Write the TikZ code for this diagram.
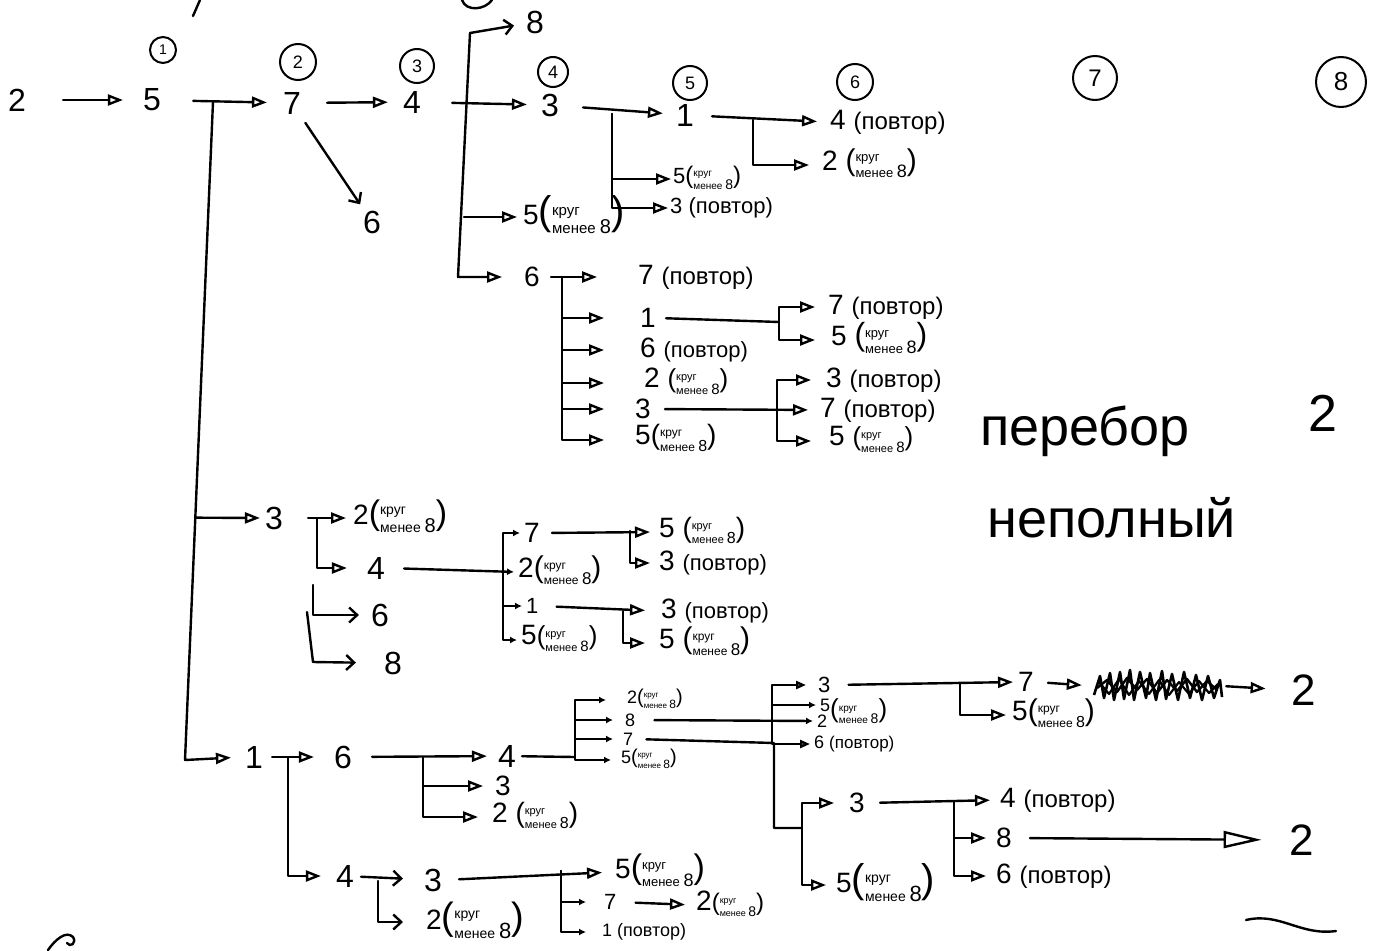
\documentclass[tikz,border=0pt]{standalone}
\usepackage{fontspec}
\setmainfont{Liberation Sans}
\usetikzlibrary{arrows.meta,calc}
\newcommand{\krg}[3]{{\fontsize{#1}{#1}\selectfont(}{\fontsize{#2}{#2}\selectfont\begin{tabular}[c]{@{}l@{}}круг\\менее {\fontsize{#3}{#3}\selectfont 8}\end{tabular}}{\fontsize{#1}{#1}\selectfont)}}
\newcommand{\povt}[1]{{\fontsize{#1}{#1}\selectfont(повтор)}}
\begin{document}
\begin{tikzpicture}[x=1pt,y=-1pt,
  every node/.style={inner sep=2pt},
  dX/.style={font=\fontsize{44}{46}\selectfont},
  dB/.style={font=\fontsize{32}{34}\selectfont},
  dM/.style={font=\fontsize{28}{30}\selectfont},
  dT/.style={font=\fontsize{22}{24}\selectfont},
  dS/.style={font=\fontsize{18}{20}\selectfont},
  hw/.style={font=\fontsize{54}{56}\selectfont},
  lf/.style={anchor=west},
  ln/.style={line width=2.4pt, line cap=round, line join=round},
  tri/.style={ln, -{Triangle[open,length=15pt,width=11pt]}},
  trim/.style={ln, -{Triangle[open,length=10pt,width=8pt]}},
  bigtri/.style={ln, -{Triangle[open,length=38pt,width=17pt]}},
  tris/.style={ln, -{Latex[length=7pt,width=7pt]}},
  barb/.style={ln, -{Straight Barb[length=8pt,width=15pt]}},
  ord/.style={circle, draw, line width=2pt, inner sep=0pt, font=\fontsize{18}{20}\selectfont}
]
\fill[white] (0,0) rectangle (1378,950);
\useasboundingbox (0,0) rectangle (1378,950);

% ---------- level markers ----------
\node[ord, minimum size=26pt, font=\fontsize{14}{16}\selectfont] (c1) at (163,50) {1};
\node[ord, minimum size=36pt] (c2) at (298,62) {2};
\node[ord, minimum size=34pt] (c3) at (417,66) {3};
\node[ord, minimum size=30pt] (c4) at (553,72) {4};
\node[ord, minimum size=34pt] (c5) at (690,83) {5};
\node[ord, minimum size=36pt] (c6) at (855,82) {6};
\node[ord, minimum size=44pt, font=\fontsize{24}{26}\selectfont] (c7) at (1095,78) {7};
\node[ord, minimum size=50pt, font=\fontsize{26}{28}\selectfont] (c8) at (1341,82) {8};

% ---------- main row ----------
\node[dB] (r2) at (17,100) {2};
\node[dB] (r5) at (152,100) {5};
\node[dB] (r7) at (292,103) {7};
\node[dB] (r4) at (412,102) {4};
\node[dB] (r3) at (550,105) {3};
\node[dB] (r1) at (685,115) {1};
\node[dM,lf] (r4p) at (828,122) {4 \povt{24}};

\draw[tri, shorten <=35pt, shorten >=18pt] (r2) -- (r5);
\draw[tri, shorten <=30pt, shorten >=14pt] (r5) -- (r7);
\draw[tri, shorten <=24pt, shorten >=13pt] (r7) -- (r4);
\draw[tri, shorten <=29pt, shorten >=12pt] (r4) -- (r3);
\draw[tri, shorten <=22pt, shorten >=11pt] (r3) -- (r1);
\draw[tri, shorten <=16pt, shorten >=11pt] (r1) -- (r4p.west);

\node[dB] (n6a) at (372,222) {6};
\draw[barb, shorten <=8pt, shorten >=5pt] (r7) -- (n6a);

\coordinate (j57) at (213,102);
\coordinate (j14) at (753,120);
\coordinate (j31) at (612,114);

\node[dM,lf] (n2c) at (820,165) {2 \krg{30}{13}{18}};
\draw[tri, shorten >=11pt] (j14) |- (n2c.west);

\node[dT,lf] (n5b) at (671,179) {5\krg{24}{10}{14}};
\node[dT,lf] (n3p1) at (668,208) {3 \povt{22}};
\draw[tri] (j31) |- (n5b.west);
\draw[tri] (j31) |- (n3p1.west);

% ---------- trunk of 4 ----------
\coordinate (t4top) at (470,33);
\coordinate (t4c) at (458,277);
\coordinate (t5a) at (464,217);
\node[dB] (e8) at (535,22) {8};
\draw[barb, shorten >=10pt] (t4top) -- (e8);
\node[dM] (n6b) at (532,277) {6};
\draw[tri, shorten >=20pt] (t4top) -- (t4c) -- (n6b.west);
\node[dM,lf] (n5a) at (521,217) {5\krg{40}{15}{20}};
\draw[tri, shorten >=4pt] (t5a) -- (n5a.west);

% ---------- group of 6 ----------
\coordinate (j6) at (562,277);
\node[dM,lf] (n7p1) at (636,277) {7 \povt{24}};
\draw[tri, shorten <=9pt, shorten >=39pt] (n6b) -- (n7p1.west);
\node[dM,lf] (n1b) at (638,318) {1};
\node[dM,lf] (n6p) at (638,350) {6 \povt{22}};
\node[dM,lf] (n2d) at (642,383) {2 \krg{26}{11}{15}};
\node[dM,lf] (n3c) at (633,409) {3};
\node[dM,lf] (n5c) at (633,440) {5\krg{28}{12}{16}};
\draw[tri, shorten >=34pt] (j6) |- (n1b.west);
\draw[tri, shorten >=34pt] (j6) |- (n6p.west);
\draw[tri, shorten >=38pt] (j6) |- (n2d.west);
\draw[tri, shorten >=29pt] (j6) |- (n3c.west);
\draw[tri, shorten >=29pt] (j6) |- (n5c.west);

\coordinate (j1b) at (779,322);
\draw[ln, shorten <=8pt] (n1b.east) -- (j1b);
\node[dM,lf] (n7p2) at (826,307) {7 \povt{24}};
\node[dM,lf] (n5d) at (829,340) {5 \krg{32}{13}{18}};
\draw[tri, shorten >=11pt] (j1b) |- (n7p2.west);
\draw[tri, shorten >=14pt] (j1b) |- (n5d.west);

\coordinate (j3c) at (777,410);
\node[dM,lf] (n7p3) at (818,410) {7 \povt{24}};
\node[dM,lf] (n3p2) at (824,380) {3 \povt{24}};
\node[dM,lf] (n5e) at (827,441) {5 \krg{26}{11}{15}};
\draw[tri, shorten <=12pt, shorten >=10pt] (n3c.east) -- (n7p3.west);
\draw[tri, shorten >=13pt] (j3c) |- (n3p2.west);
\draw[tri, shorten >=16pt] (j3c) |- (n5e.west);

% ---------- notes ----------
\node[hw] (pb) at (1085,431) {перебор};
\node[hw] (np) at (1112,518) {неполный};
\node[font=\fontsize{52}{54}\selectfont] (rr2) at (1323,413) {2};

% ---------- trunk of 5 ----------
\coordinate (tb) at (185,760);
\coordinate (jt3) at ($(j57)!0.6317!(tb)$);
\node[dB] (b1) at (254,757) {1};
\draw[tri, shorten >=12pt] (j57) -- (tb) -- (b1.west);

\node[dB] (m3) at (274,518) {3};
\draw[tri, shorten >=3pt] (jt3) -- (m3.west);
\coordinate (jm3) at (317,518);
\node[dM,lf] (n2e) at (351,518) {2\krg{34}{14}{20}};
\draw[tri, shorten <=23pt, shorten >=5pt] (m3.east) -- (n2e.west);
\node[dB] (m4) at (376,568) {4};
\draw[tri, shorten >=18pt] (jm3) |- (m4.west);
\coordinate (jm6) at (313,585);
\node[dB] (m6) at (380,615) {6};
\draw[barb, shorten >=10pt] (jm6) |- (m6.west);
\coordinate (jm8) at (307,612);
\coordinate (jm8b) at (313,662);
\node[dB] (m8) at (393,663) {8};
\draw[barb, shorten >=26pt] (jm8) -- (jm8b) -- (m8.west);

\coordinate (jm4) at (503,570);
\node[dM,lf] (q2) at (516,572) {2\krg{30}{12}{17}};
\draw[tris, shorten <=17pt, shorten >=2pt] (m4.east) -- (q2.west);
\node[dM,lf] (q7) at (522,533) {7};
\node[dT,lf] (q1) at (524,606) {1};
\node[dM,lf] (q5) at (519,640) {5\krg{26}{11}{15}};
\draw[tris, shorten >=2pt] (jm4) |- (q7.west);
\draw[tris, shorten >=2pt] (jm4) |- (q1.west);
\draw[tris, shorten >=2pt] (jm4) |- (q5.west);

\coordinate (jq7) at (630,531);
\node[dM,lf] (q5b) at (657,532) {5 \krg{28}{11}{16}};
\node[dM,lf] (q3p) at (657,563) {3 \povt{22}};
\draw[tri, shorten <=10pt, shorten >=7pt] (q7.east) -- (q5b.west);
\draw[tri, shorten >=7pt] (jq7) |- (q3p.west);

\coordinate (jq1) at (623,611);
\node[dM,lf] (q3p2) at (659,611) {3 \povt{22}};
\node[dM,lf] (q5c) at (657,643) {5 \krg{30}{12}{17}};
\draw[tri, shorten <=16pt, shorten >=14pt] (q1.east) -- (q3p2.west);
\draw[tri, shorten >=12pt] (jq1) |- (q5c.west);

% ---------- bottom branch ----------
\node[dB] (b6) at (343,757) {6};
\coordinate (jb1) at (288,757);
\draw[tri, shorten <=7pt, shorten >=18pt] (b1) -- (b6);
\node[dB] (b4) at (345,876) {4};
\draw[tri, shorten >=13pt] (jb1) |- (b4.west);

\node[dB] (b4b) at (507,756) {4};
\draw[tri, shorten <=18pt, shorten >=9pt] (b6) -- (b4b);
\coordinate (jb6) at (423,757);
\node[dM] (b3) at (503,786) {3};
\node[dM,lf] (b2) at (490,817) {2 \krg{28}{11}{16}};
\draw[tri, shorten >=10pt] (jb6) |- (b3.west);
\draw[tri, shorten >=12pt] (jb6) |- (b2.west);

\coordinate (jb4) at (575,757);
\draw[ln, shorten <=4pt] (b4b) -- (jb4);
\node[dS,lf] (s2) at (625,700) {2\krg{20}{8}{12}};
\node[dS,lf] (s8) at (623,720) {8};
\node[dS,lf] (s7) at (621,739) {7};
\node[dS,lf] (s5) at (619,760) {5\krg{20}{8}{12}};
\draw[tris, shorten >=19pt] (jb4) |- (s2.west);
\draw[tris, shorten >=10pt] (jb4) |- (s8.west);
\draw[tris, shorten >=8pt] (jb4) |- (s7.west);
\draw[tris, shorten >=8pt] (jb4) |- (s5.west);

\coordinate (k8) at (772,720);
\node[dS,lf] (u2) at (815,721) {2};
\draw[tris, shorten <=17pt, shorten >=2pt] (s8.east) -- (u2.west);
\node[dT,lf] (u3) at (816,685) {3};
\node[dS,lf] (u5) at (818,705) {5};
\node[dS,lf] (u6) at (812,744) {6 \povt{17}};
\node[lf] (lab52) at (828,713) {\krg{26}{10}{14}};
\draw[trim, shorten >=10pt] (k8) |- (u3.west);
\draw[tris, shorten >=2pt] (k8) |- (u5.west);
\draw[trim, shorten >=2pt] (k8) |- (u6.west);

\coordinate (k7) at (774,743);
\coordinate (k7b) at (774,828);
\coordinate (k7c) at (802,828);
\draw[ln, shorten <=11pt] (s7.east) -- (k7) -- (k7b) -- (k7c);
\node[dM] (v3) at (857,803) {3};
\node[dM,lf] (v5) at (834,885) {5\krg{40}{14}{22}};
\draw[tri, shorten >=13pt] (k7c) |- (v3.west);
\draw[tri, shorten >=8pt] (k7c) |- (v5.west);

\node[dM] (w7) at (1026,682) {7};
\coordinate (ju3) at (960,684);
\node[dM,lf] (w5) at (1010,715) {5\krg{30}{12}{16}};
\draw[tri, shorten <=16pt, shorten >=3pt] (u3.east) -- (w7.west);
\draw[tri, shorten >=4pt] (ju3) |- (w5.west);

\node[minimum width=128pt, minimum height=27pt, inner sep=0pt] (scr) at (1158,686) {};
\draw[line width=2.6pt, line join=round] plot coordinates {(1094,695) (1100,676) (1104,698) (1110,673) (1114,700) (1120,672) (1124,699) (1130,670) (1134,700) (1140,672) (1146,698) (1150,673) (1156,700) (1162,671) (1166,699) (1172,674) (1178,700) (1184,672) (1190,698) (1196,675) (1202,700) (1208,676) (1214,698) (1220,680) (1222,697)};
\draw[line width=2.4pt, line join=round] plot coordinates {(1097,688) (1107,680) (1117,692) (1127,678) (1137,690) (1147,679) (1157,693) (1167,680) (1177,691) (1187,679) (1197,692) (1207,681) (1217,690)};
\draw[line width=2.2pt, line join=round] plot coordinates {(1099,682) (1109,694) (1119,679) (1129,695) (1139,681) (1149,694) (1159,680) (1169,695) (1179,682) (1189,694) (1199,681) (1209,693) (1218,684)};
\draw[tri, shorten <=12pt, shorten >=12pt] (w7.east) -- (scr.west);
\node[dX] (r2b) at (1304,690) {2};
\draw[tri, shorten <=4pt, shorten >=24pt] (scr.east) -- (r2b.west);

\coordinate (jv3) at (954,802);
\node[dM,lf] (x4p) at (998,800) {4 \povt{24}};
\node[dM,lf] (x8) at (994,838) {8};
\node[dM,lf] (x6) at (994,876) {6 \povt{24}};
\draw[tri, shorten <=13pt, shorten >=8pt] (v3.east) -- (x4p.west);
\draw[tri, shorten >=8pt] (jv3) |- (x8.west);
\draw[tri, shorten >=8pt] (jv3) |- (x6.west);
\node[dX] (r2c) at (1302,840) {2};
\draw[bigtri, shorten <=16pt, shorten >=26pt] (x8.east) -- (r2c.west);

\node[dB] (b3b) at (433,880) {3};
\coordinate (jb4b) at (378,881);
\draw[barb, shorten <=5pt, shorten >=19pt] (b4) -- (b3b);
\node[dM,lf] (b2b) at (424,922) {2\krg{38}{14}{22}};
\draw[barb, shorten >=21pt] (jb4b) |- (b2b.west);

\coordinate (jb3) at (561,871);
\node[dM,lf] (y5) at (613,872) {5\krg{34}{13}{18}};
\draw[tri, shorten <=15pt, shorten >=11pt] (b3b.east) -- (y5.west);
\node[dT,lf] (y7) at (602,902) {7};
\node[dS,lf] (y1) at (600,932) {1 \povt{18}};
\draw[tris, shorten >=16pt] (jb3) |- (y7.west);
\draw[tris, shorten >=14pt] (jb3) |- (y1.west);
\node[dM,lf] (y2) at (694,905) {2\krg{24}{9}{14}};
\draw[tri, shorten <=17pt, shorten >=9pt] (y7.east) -- (y2.west);

% ---------- loose strokes ----------
\draw[ln] (1246,920) .. controls (1280,912) and (1300,936) .. (1336,931);
\draw[ln] (200,0) -- (193,16);
\draw[ln] (462,0) .. controls (466,12) and (485,10) .. (492,0);
\draw[ln] (48,950) .. controls (55,940) and (66,930) .. (73,937) .. controls (77,943) and (70,948) .. (67,943);
\end{tikzpicture}
\end{document}
